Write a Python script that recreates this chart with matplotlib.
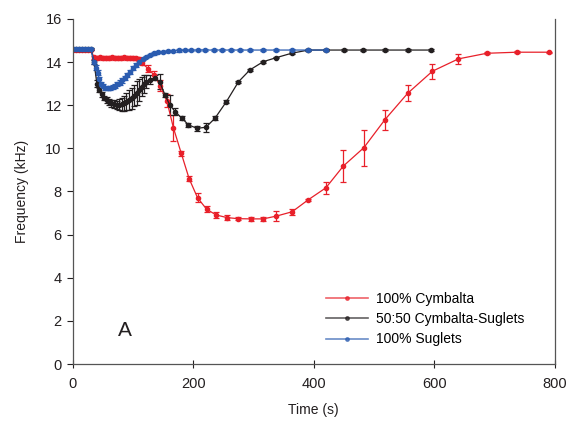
import numpy as np
import matplotlib.pyplot as plt
from matplotlib.lines import Line2D

plt.rcParams['font.family'] = ['Liberation Sans', 'DejaVu Sans']

# 100% Cymbalta
t_cym = [0, 5, 10, 15, 20, 25, 30,
         35, 40, 45, 50, 55, 60, 65, 70, 75, 80, 85, 90, 95, 100, 105, 110,
         115, 125, 135, 145, 156, 167, 180, 193, 207, 222, 238, 256, 274, 295,
         316, 338, 364, 391, 420, 449, 483, 518, 556, 597, 640, 687, 737, 791]
f_cym = [14.58, 14.58, 14.58, 14.58, 14.58, 14.58, 14.58,
         14.22, 14.2, 14.22, 14.2, 14.21, 14.2, 14.22, 14.2, 14.21, 14.2, 14.22, 14.2, 14.21, 14.2, 14.18, 14.15,
         13.95, 13.7, 13.4, 12.9, 12.2, 10.95, 9.77, 8.6, 7.71, 7.18, 6.91, 6.79, 6.74, 6.73,
         6.73, 6.86, 7.06, 7.62, 8.17, 9.18, 10.03, 11.33, 12.56, 13.58, 14.15, 14.41, 14.46, 14.46]
e_cym = [0.03, 0.03, 0.03, 0.03, 0.03, 0.03, 0.03,
         0.08, 0.08, 0.08, 0.08, 0.08, 0.08, 0.08, 0.08, 0.08, 0.08, 0.08, 0.08, 0.08, 0.08, 0.08, 0.1,
         0.1, 0.15, 0.2, 0.25, 0.3, 0.6, 0.12, 0.13, 0.2, 0.14, 0.12, 0.1, 0.08, 0.1,
         0.1, 0.24, 0.15, 0.05, 0.27, 0.76, 0.83, 0.46, 0.38, 0.35, 0.23, 0.05, 0.04, 0.03]

# 50:50 Cymbalta-Suglets
t_mix = [0, 5, 10, 15, 20, 25, 30,
         35, 40, 44, 48, 52, 56, 60, 64, 68, 73, 77, 81, 85, 89, 93, 98, 102, 106, 110,
         114, 118, 122, 128, 136, 144, 153, 161, 170, 181, 192, 206, 221, 236, 255, 275,
         294, 316, 338, 363, 391, 420, 450, 482, 518, 557, 595]
f_mix = [14.62, 14.62, 14.62, 14.62, 14.62, 14.62, 14.62,
         14.0, 13.0, 12.7, 12.5, 12.35, 12.24, 12.15, 12.09, 12.05, 12.01, 12.02, 12.05, 12.1, 12.17, 12.25, 12.32, 12.45, 12.56, 12.7,
         12.86, 12.98, 13.09, 13.18, 13.28, 13.09, 12.48, 12.01, 11.7, 11.4, 11.09, 10.93, 10.98, 11.4, 12.17, 13.09,
         13.64, 14.02, 14.21, 14.41, 14.56, 14.56, 14.56, 14.56, 14.56, 14.56, 14.56]
e_mix = [0.04, 0.04, 0.04, 0.04, 0.04, 0.04, 0.04,
         0.1, 0.15, 0.1, 0.1, 0.1, 0.12, 0.15, 0.15, 0.2, 0.2, 0.25, 0.3, 0.35, 0.4, 0.45, 0.5, 0.5, 0.55, 0.5,
         0.45, 0.4, 0.3, 0.2, 0.1, 0.35, 0.1, 0.45, 0.15, 0.1, 0.08, 0.12, 0.2, 0.1, 0.06, 0.05,
         0.05, 0.05, 0.04, 0.04, 0.04, 0.04, 0.04, 0.04, 0.04, 0.04, 0.04]

# 100% Suglets
t_sug = [0, 5, 10, 15, 20, 25, 30,
         35, 38, 41, 44, 47, 50, 54, 58, 62, 66, 70, 74, 78, 82, 86, 90, 95, 100, 105, 110,
         116, 122, 128, 135, 142, 150, 158, 166, 176, 186, 196, 208, 220, 234, 248, 262,
         278, 294, 316, 338, 363, 391, 420]
f_sug = [14.62, 14.62, 14.62, 14.62, 14.62, 14.62, 14.62,
         14.0, 13.75, 13.5, 13.2, 13.0, 12.88, 12.8, 12.78, 12.79, 12.84, 12.9, 12.98, 13.05, 13.15, 13.27, 13.4, 13.55, 13.72, 13.87, 14.0,
         14.15, 14.25, 14.32, 14.4, 14.45, 14.48, 14.51, 14.53, 14.54, 14.55, 14.55, 14.56, 14.56, 14.56, 14.56, 14.56,
         14.56, 14.56, 14.56, 14.56, 14.56, 14.56, 14.56]
e_sug = [0.04] * 7 + [0.1, 0.12, 0.12, 0.12, 0.1, 0.1, 0.08, 0.08, 0.08, 0.08, 0.08, 0.1, 0.1, 0.1, 0.1, 0.1,
                      0.1, 0.1, 0.08, 0.08] + [0.05] * 23

series = [
    (t_cym, f_cym, e_cym, '#e8202a', '100% Cymbalta'),
    (t_mix, f_mix, e_mix, '#231f20', '50:50 Cymbalta-Suglets'),
    (t_sug, f_sug, e_sug, '#2b5cb0', '100% Suglets'),
]

fig = plt.figure(figsize=(5.69, 4.24), dpi=100)
ax = fig.add_axes([0.128, 0.1415, 0.847, 0.8137])

handles = []
for t, f, e, c, lab in series:
    ax.errorbar(t, f, yerr=e, color=c, ecolor=c, elinewidth=0.9, capsize=2.5,
                capthick=0.9, lw=0.9, marker='o', ms=3, mec=c)
    handles.append(Line2D([], [], color=c, lw=1.2, alpha=0.7, marker='o', ms=2.5,
                          mfc=c, mec=c, label=lab))

ax.text(87, 1.55, 'A', fontsize=15, color='#231f20', ha='center', va='center')

ax.set_xlim(0, 800)
ax.set_ylim(0, 16)
ax.set_xticks([0, 200, 400, 600, 800])
ax.set_yticks(range(0, 17, 2))
ax.set_xlabel('Time (s)', fontsize=10, color='#231f20', labelpad=9)
ax.set_ylabel('Frequency (kHz)', fontsize=10, color='#231f20', labelpad=12)
ax.tick_params(axis='both', labelsize=10.5, colors='#231f20', width=0.8)
ax.tick_params(axis='x', direction='inout', length=6, pad=6)
ax.tick_params(axis='y', direction='out', length=4, pad=4)
ax.spines['top'].set_visible(False)
for s in ['left', 'bottom', 'right']:
    ax.spines[s].set_color('#555555')
    ax.spines[s].set_linewidth(0.9)

ax.legend(handles=handles, loc='upper left', bbox_to_anchor=(0.5, 0.245), frameon=False,
          fontsize=10, handlelength=3, labelspacing=0.45, handletextpad=0.6)

fig.savefig('out.png', dpi=100)
